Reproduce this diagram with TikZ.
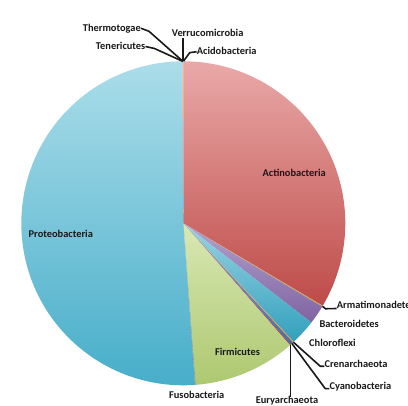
\documentclass[tikz,border=0pt]{standalone}
\usepackage{fontspec}
\setmainfont{Carlito}
\usepackage{tikz}
\definecolor{acidoA}{HTML}{9DB6DE}
\definecolor{acidoB}{HTML}{4F81BD}
\definecolor{actinoA}{HTML}{E9A9A8}
\definecolor{actinoB}{HTML}{BE4B48}
\definecolor{armatiA}{HTML}{E3B86A}
\definecolor{armatiB}{HTML}{C9A050}
\definecolor{bacteroA}{HTML}{B3A2CB}
\definecolor{bacteroB}{HTML}{8064A2}
\definecolor{chloroA}{HTML}{9AD3E3}
\definecolor{chloroB}{HTML}{31A0BD}
\definecolor{crenarA}{HTML}{F9B27A}
\definecolor{crenarB}{HTML}{F08A35}
\definecolor{cyanoA}{HTML}{7FA4D6}
\definecolor{cyanoB}{HTML}{3F70B0}
\definecolor{euryarA}{HTML}{C46A68}
\definecolor{euryarB}{HTML}{9E3B39}
\definecolor{firmiA}{HTML}{D8E8B4}
\definecolor{firmiB}{HTML}{AEC870}
\definecolor{fusoA}{HTML}{9E8AB9}
\definecolor{fusoB}{HTML}{6A518A}
\definecolor{proteoA}{HTML}{ABDDE9}
\definecolor{proteoB}{HTML}{45ADC9}
\definecolor{teneriA}{HTML}{F4C9A6}
\definecolor{teneriB}{HTML}{E8A978}
\definecolor{thermoA}{HTML}{B8CCE8}
\definecolor{thermoB}{HTML}{8FAAD8}
\definecolor{verrucoA}{HTML}{E6B8B7}
\definecolor{verrucoB}{HTML}{D99694}
\tikzstyle{lbl} = [inner sep=0pt, text height=1.5ex, text depth=.25ex, font=\fontsize{10.4}{12}\selectfont\bfseries, text=black!90]
\tikzstyle{leader} = [line width=1.6pt, black!90]

\begin{document}
\begin{tikzpicture}[x=1pt, y=1pt]
    \useasboundingbox (0,0) rectangle (408,-406);
    \fill[white] (0,0) rectangle (408,-406);
    \clip (0,0) rectangle (408,-406);
    \coordinate (c) at (183.3,-223.3);

    % slices, clockwise from the top
    \foreach \a/\b/\col in {90/89.9/acido, 89.9/-30.6/actino, -30.6/-31.0/armati,
        -31.0/-37.8/bactero, -37.8/-47.0/chloro, -47.0/-47.4/crenar,
        -47.4/-48.4/cyano, -48.4/-48.8/euryar, -48.8/-85.7/firmi,
        -85.7/-85.85/fuso, -85.85/-269.7/proteo, -269.7/-269.8/teneri,
        -269.8/-269.9/thermo, -269.9/-270/verruco}
        \shade[top color=\col A, bottom color=\col B] (c) -- ++(\a:162) arc[start angle=\a, end angle=\b, radius=162] -- cycle;

    % points on the rim
    \path (c) ++(89.95:162) coordinate (pacido);
    \path (c) ++(-30.8:162) coordinate (parmati);
    \path (c) ++(-47.2:162) coordinate (pcrenar);
    \path (c) ++(-47.9:162) coordinate (pcyano);
    \path (c) ++(-48.6:162) coordinate (peuryar);
    \path (c) ++(90.25:162) coordinate (pteneri);
    \path (c) ++(90.15:162) coordinate (pthermo);
    \path (c) ++(90.05:162) coordinate (pverruco);

    \node[lbl, anchor=east] (thermo) at (141,-28.3) {Thermotogae};
    \node[lbl, anchor=east] (teneri) at (145.5,-46.5) {Tenericutes};
    \node[lbl, anchor=west] (verruco) at (171.7,-33.3) {Verrucomicrobia};
    \node[lbl, anchor=west] (acido) at (196.7,-51.7) {Acidobacteria};
    \node[lbl] (actino) at (294.2,-173.3) {Actinobacteria};
    \node[lbl] (proteo) at (60.8,-234.3) {Proteobacteria};
    \node[lbl] (firmi) at (237.5,-352.3) {Firmicutes};
    \node[lbl] (fuso) at (196.7,-395.7) {Fusobacteria};
    \node[lbl, anchor=west] (armati) at (336.7,-306) {Armatimonadetes};
    \node[lbl, anchor=west] (bactero) at (319.3,-325) {Bacteroidetes};
    \node[lbl, anchor=west] (chloro) at (309,-344) {Chloroflexi};
    \node[lbl, anchor=west] (crenar) at (324.3,-364.3) {Crenarchaeota};
    \node[lbl, anchor=west] (cyano) at (329.3,-386.7) {Cyanobacteria};
    \node[lbl] (euryar) at (287,-401) {Euryarchaeota};

    \draw[leader] (thermo.east) -- ++(8,-3) -- (pthermo);
    \draw[leader] (teneri.east) -- ++(9,-2) -- (pteneri);
    \draw[leader] (pverruco |- verruco.south) -- (pverruco);
    \draw[leader] (acido.west) -- ++(-7,-1) -- (pacido);
    \draw[leader] (parmati) -- ++(3,-2.5) -- ([yshift=-2.5]armati.west);
    \draw[leader] (pcrenar) -- ([xshift=-4,yshift=-2]crenar.west) -- ([yshift=-2]crenar.west);
    \draw[leader] (pcyano) -- ([xshift=-4,yshift=-2]cyano.west) -- ([yshift=-2]cyano.west);
    \draw[leader] (peuryar) -- (peuryar |- euryar.north);
\end{tikzpicture}
\end{document}
